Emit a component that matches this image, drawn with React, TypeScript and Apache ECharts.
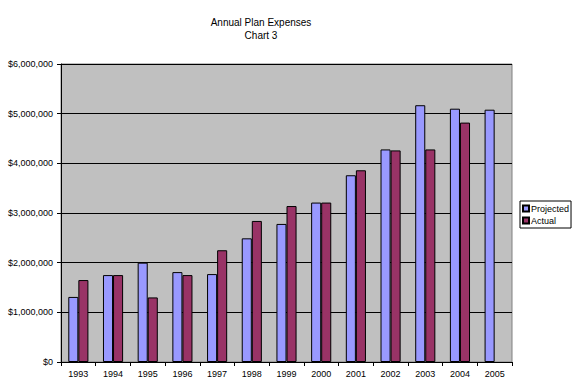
import React, { useEffect, useRef } from "react";
import * as echarts from "echarts";

const years = ["1993", "1994", "1995", "1996", "1997", "1998", "1999", "2000", "2001", "2002", "2003", "2004", "2005"];
const projected = [1310000, 1750000, 2000000, 1810000, 1770000, 2490000, 2780000, 3210000, 3760000, 4280000, 5170000, 5100000, 5080000];
const actual: (number | null)[] = [1650000, 1750000, 1300000, 1750000, 2250000, 2840000, 3140000, 3210000, 3860000, 4260000, 4280000, 4820000, null];
const titleLines = ["Annual Plan Expenses", "Chart 3"];

const FONT = "'Liberation Sans', Arial, sans-serif";

function fmt(v: number) {
  return "$" + v.toLocaleString("en-US");
}

export default function App() {
  const ref = useRef<HTMLDivElement>(null);
  useEffect(() => {
    if (!ref.current) return;
    const chart = echarts.init(ref.current, null, { renderer: "svg" });
    chart.setOption({
      animation: false,
      backgroundColor: "#ffffff",
      textStyle: { fontFamily: FONT },
      graphic: [
        {
          type: "text",
          x: 261,
          y: 17,
          style: { text: titleLines[0], fontFamily: FONT, fontSize: 10, fill: "#000", textAlign: "center" },
        },
        {
          type: "text",
          x: 261,
          y: 30,
          style: { text: titleLines[1], fontFamily: FONT, fontSize: 10, fill: "#000", textAlign: "center" },
        },
      ],
      legend: {
        orient: "vertical",
        left: 520,
        top: 201,
        width: 46,
        padding: [3, 2, 3, 2],
        itemGap: 3,
        itemWidth: 6,
        itemHeight: 6,
        icon: "rect",
        borderColor: "#000",
        borderWidth: 1,
        backgroundColor: "#fff",
        textStyle: { fontFamily: FONT, fontSize: 9, color: "#000", padding: [0, 0, 0, -3] },
        data: ["Projected", "Actual"],
      },
      grid: {
        left: 61,
        right: 63,
        top: 64,
        bottom: 30,
        show: true,
        backgroundColor: "#C0C0C0",
        borderColor: "#808080",
        borderWidth: 1,
      },
      xAxis: {
        type: "category",
        data: years,
        axisLine: { lineStyle: { color: "#000", width: 1 } },
        axisTick: { show: true, length: 4, lineStyle: { color: "#000" } },
        axisLabel: { fontFamily: FONT, fontSize: 9, color: "#000", margin: 7 },
      },
      yAxis: {
        type: "value",
        min: 0,
        max: 6000000,
        interval: 1000000,
        axisLine: { show: true, lineStyle: { color: "#000", width: 1 } },
        axisTick: { show: true, length: 4, lineStyle: { color: "#000" } },
        axisLabel: { fontFamily: FONT, fontSize: 9, color: "#000", margin: 8, formatter: (v: number) => fmt(v) },
        splitLine: { show: true, lineStyle: { color: "#000", width: 1 } },
      },
      series: [
        {
          name: "Projected",
          type: "bar",
          data: projected,
          barGap: "0%",
          barCategoryGap: "42%",
          itemStyle: { color: "#9999FF", borderColor: "#000", borderWidth: 1 },
        },
        {
          name: "Actual",
          type: "bar",
          data: actual,
          itemStyle: { color: "#993366", borderColor: "#000", borderWidth: 1 },
        },
      ],
    });
    return () => chart.dispose();
  }, []);
  return <div ref={ref} style={{ width: 575, height: 392, position: "absolute", left: 0, top: 0 }} />;
}
